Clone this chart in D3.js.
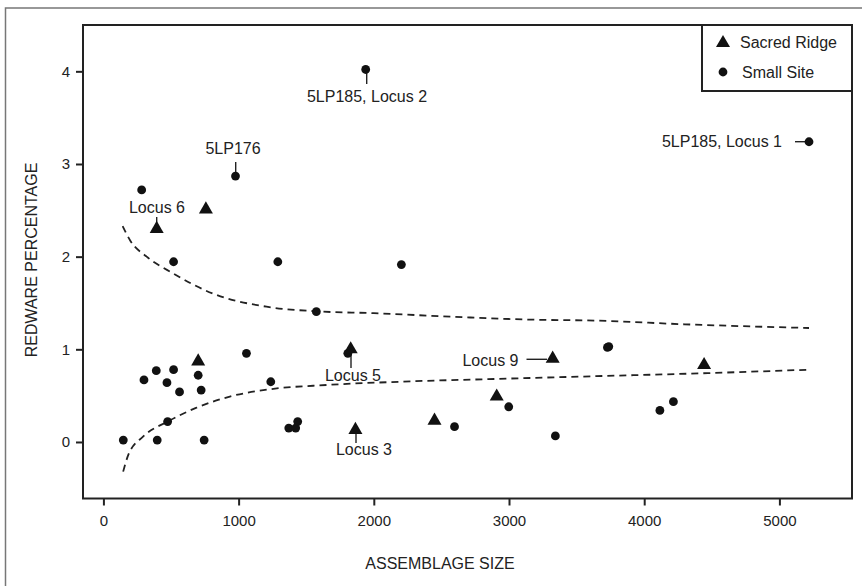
<!DOCTYPE html>
<html>
<head>
<meta charset="utf-8">
<script src="https://cdn.jsdelivr.net/npm/d3@7"></script>
<style>
  body { margin: 0; background: #fff; }
  text { font-family: "Liberation Sans", Arial, sans-serif; fill: #222; }
</style>
</head>
<body>
<div id="chart"></div>
<script>
// small site assemblages: size, redware %
var smallX = [283, 519, 977, 1290, 2204, 1575, 1940, 5219, 1058, 1808, 3728, 3738,
              300, 391, 519, 470, 563, 701, 723, 1238, 475, 147, 398, 745,
              1371, 1422, 1437, 2597, 2998, 3343, 4116, 4216];
var smallY = [2.72, 1.945, 2.87, 1.945, 1.914, 1.406, 4.02, 3.24, 0.957, 0.957, 1.02, 1.03,
              0.67, 0.77, 0.78, 0.64, 0.54, 0.72, 0.56, 0.65, 0.22, 0.02, 0.02, 0.02,
              0.15, 0.15, 0.22, 0.165, 0.38, 0.065, 0.34, 0.435];

// Sacred Ridge loci
var ridgeX = [394, 758, 701, 1829, 1864, 2449, 2909, 3323, 4443];
var ridgeY = [2.30, 2.51, 0.87, 1.00, 0.13, 0.23, 0.49, 0.90, 0.83];

// dashed envelope curves
var upperX = [142, 200, 320, 515, 812, 1206, 1575, 2000, 2600, 3173, 3643, 4300, 5219];
var upperY = [2.33, 2.17, 2.00, 1.82, 1.60, 1.46, 1.41, 1.39, 1.35, 1.32, 1.31, 1.27, 1.23];
var lowerX = [146, 184, 295, 475, 689, 935, 1238, 1649, 2190, 2900, 3643, 4400, 5219];
var lowerY = [-0.32, -0.14, 0.06, 0.22, 0.37, 0.49, 0.57, 0.615, 0.65, 0.68, 0.71, 0.74, 0.78];

var xTicks = [0, 1000, 2000, 3000, 4000, 5000];
var yTicks = [0, 1, 2, 3, 4];

var width = 862, height = 586;
var box = {left: 83, right: 852, top: 25, bottom: 498.5};

var svg = d3.select("#chart")
  .append("svg")
    .attr("width", width)
    .attr("height", height);

// outer frame
svg.append("rect")
  .attr("x", 5.5).attr("y", 8)
  .attr("width", 900).attr("height", 700)
  .attr("fill", "none")
  .attr("stroke", "#777")
  .attr("stroke-width", 1.5);

var x = d3.scaleLinear()
  .domain([-151, 5537])
  .range([box.left, box.right]);

var y = d3.scaleLinear()
  .domain([-0.61, 4.5])
  .range([box.bottom, box.top]);

// axes
var xAxis = svg.append("g")
  .attr("transform", "translate(0," + box.bottom + ")")
  .call(d3.axisBottom(x).tickValues(xTicks).tickSize(7).tickPadding(10).tickFormat(d3.format("d")));
xAxis.select(".domain").remove();
xAxis.selectAll("line").attr("stroke", "#222").attr("stroke-width", 2);
xAxis.selectAll("text").style("font-size", "15px").attr("fill", "#222");

var yAxis = svg.append("g")
  .attr("transform", "translate(" + box.left + ",0)")
  .call(d3.axisLeft(y).tickValues(yTicks).tickSize(7).tickPadding(6).tickFormat(d3.format("d")));
yAxis.select(".domain").remove();
yAxis.selectAll("line").attr("stroke", "#222").attr("stroke-width", 2);
yAxis.selectAll("text").style("font-size", "15px").attr("fill", "#222");

// plot frame
svg.append("rect")
  .attr("x", box.left).attr("y", box.top)
  .attr("width", box.right - box.left)
  .attr("height", box.bottom - box.top)
  .attr("fill", "none")
  .attr("stroke", "#222")
  .attr("stroke-width", 2);

// axis titles
svg.append("text")
  .attr("x", 440).attr("y", 569)
  .attr("text-anchor", "middle")
  .style("font-size", "16px")
  .text("ASSEMBLAGE SIZE");

svg.append("text")
  .attr("transform", "translate(37,260) rotate(-90)")
  .attr("text-anchor", "middle")
  .style("font-size", "16px")
  .text("REDWARE PERCENTAGE");

// dashed curves
var line = d3.line()
  .x(function(d) { return x(d[0]); })
  .y(function(d) { return y(d[1]); })
  .curve(d3.curveMonotoneX);

[d3.zip(upperX, upperY), d3.zip(lowerX, lowerY)].forEach(function(pts) {
  svg.append("path")
    .datum(pts)
    .attr("d", line)
    .attr("fill", "none")
    .attr("stroke", "#222")
    .attr("stroke-width", 1.8)
    .attr("stroke-dasharray", "7,5");
});

// leader lines + labels
var notes = [
  {text: "5LP185, Locus 2", x1: 366.7, y1: 73, x2: 366.7, y2: 84, tx: 367, ty: 96, anchor: "middle"},
  {text: "5LP176", x1: 235.7, y1: 162, x2: 235.7, y2: 172, tx: 233, ty: 148, anchor: "middle"},
  {text: "Locus 6", x1: 156.7, y1: 217, x2: 156.7, y2: 227, tx: 157, ty: 207, anchor: "middle"},
  {text: "5LP185, Locus 1", x1: 795, y1: 141.7, x2: 808, y2: 141.7, tx: 782, ty: 141.7, anchor: "end"},
  {text: "Locus 5", x1: 351, y1: 352, x2: 351, y2: 368, tx: 353, ty: 375, anchor: "middle"},
  {text: "Locus 3", x1: 356, y1: 434, x2: 356, y2: 443, tx: 364, ty: 449, anchor: "middle"},
  {text: "Locus 9", x1: 526.5, y1: 359.3, x2: 547, y2: 359.3, tx: 518.5, ty: 360, anchor: "end"}
];

svg.append("g").selectAll("line")
  .data(notes)
  .enter()
  .append("line")
    .attr("x1", function(d) { return d.x1; })
    .attr("y1", function(d) { return d.y1; })
    .attr("x2", function(d) { return d.x2; })
    .attr("y2", function(d) { return d.y2; })
    .attr("stroke", "#222")
    .attr("stroke-width", 1.4);

svg.append("g").selectAll("text")
  .data(notes)
  .enter()
  .append("text")
    .attr("x", function(d) { return d.tx; })
    .attr("y", function(d) { return d.ty; })
    .attr("dy", "0.35em")
    .attr("text-anchor", function(d) { return d.anchor; })
    .style("font-size", "16px")
    .text(function(d) { return d.text; });

// points
var tri = d3.symbol().type(d3.symbolTriangle).size(85);

svg.append("g")
  .selectAll("circle")
  .data(d3.zip(smallX, smallY))
  .enter()
  .append("circle")
    .attr("cx", function(d) { return x(d[0]); })
    .attr("cy", function(d) { return y(d[1]); })
    .attr("r", 4.4)
    .style("fill", "#111");

svg.append("g")
  .selectAll("path")
  .data(d3.zip(ridgeX, ridgeY))
  .enter()
  .append("path")
    .attr("d", tri)
    .attr("transform", function(d) { return "translate(" + x(d[0]) + "," + y(d[1]) + ")"; })
    .style("fill", "#111");

// legend
var legend = svg.append("g");
legend.append("rect")
  .attr("x", 702).attr("y", 25)
  .attr("width", 150).attr("height", 66)
  .attr("fill", "#fff")
  .attr("stroke", "#222")
  .attr("stroke-width", 2);
legend.append("path")
  .attr("d", tri)
  .attr("transform", "translate(723,43)")
  .style("fill", "#111");
legend.append("circle")
  .attr("cx", 723).attr("cy", 72)
  .attr("r", 4.4)
  .style("fill", "#111");
legend.append("text")
  .attr("x", 740).attr("y", 42).attr("dy", "0.35em")
  .style("font-size", "16px")
  .text("Sacred Ridge");
legend.append("text")
  .attr("x", 742).attr("y", 72).attr("dy", "0.35em")
  .style("font-size", "16px")
  .text("Small Site");
</script>
</body>
</html>
